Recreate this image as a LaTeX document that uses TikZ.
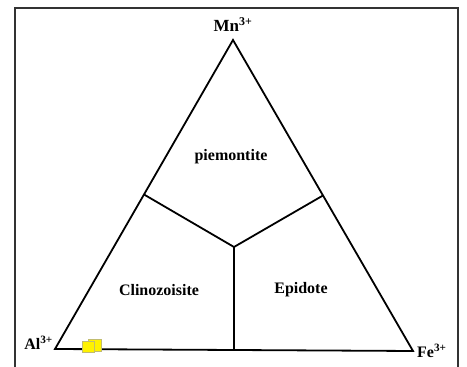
\documentclass[tikz,border=0pt]{standalone}
\usepackage{fontspec}
\setmainfont{Liberation Serif}
\usetikzlibrary{calc}
\tikzset{
  lbl/.style={font=\bfseries\fontsize{16}{18}\selectfont, inner sep=0pt},
  vlbl/.style={font=\bfseries\fontsize{17}{19}\selectfont, inner sep=0pt},
  edge/.style={line width=1.8pt, line join=miter},
  sq/.style={fill=yellow, draw=yellow!60!black!70, line width=0.8pt}
}
\begin{document}
\begin{tikzpicture}[x=1pt,y=1pt]
\useasboundingbox (0,0) rectangle (467,367);
\clip (0,0) rectangle (467,367);
\fill[white] (0,0) rectangle (467,367);
\draw[line width=1.5pt, black!80] (15,-10) rectangle (458,359);
\coordinate (A) at (55,18);
\coordinate (B) at (413,16);
\coordinate (C) at (233,327);
\coordinate (J) at (234,120);
\coordinate (L) at ($(A)!0.5!(C)$);
\coordinate (R) at ($(B)!0.5!(C)$);
\coordinate (M) at ($(A)!0.5!(B)$);
\draw[edge] (A) -- (B) -- (C) -- cycle;
\draw[edge] (L) -- (J) -- (R);
\draw[edge] (J) -- (M);
\node[sq, minimum width=13pt, minimum height=12pt, inner sep=0pt] (s2) at (94.5,21.5) {};
\node[sq, minimum width=12pt, minimum height=11pt, inner sep=0pt] (s1) at (88,20.5) {};
\node[vlbl, anchor=base] (mn) at (233,335) {Mn\textsuperscript{3+}};
\node[lbl, anchor=base east] (al) at (53,17) {Al\textsuperscript{3+}};
\node[lbl, anchor=base west] (fe) at (417,9) {Fe\textsuperscript{3+}};
\node[lbl] (pi) at (231,210) {piemontite};
\node[lbl] (cz) at (159,77) {Clinozoisite};
\node[lbl] (ep) at (301,77) {Epidote};
\end{tikzpicture}
\end{document}
